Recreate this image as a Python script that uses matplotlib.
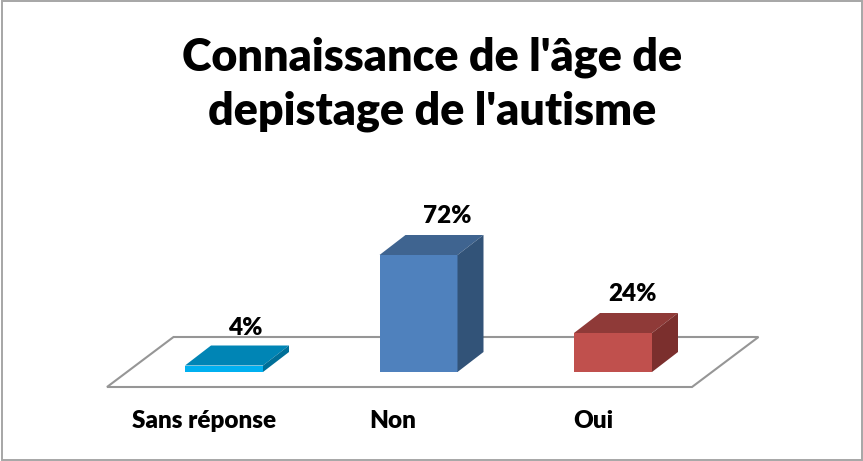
import matplotlib
matplotlib.use('Agg')
import matplotlib.pyplot as plt
from matplotlib.patches import Polygon, Rectangle

plt.rcParams['font.family'] = ['Lato', 'DejaVu Sans']

title = "Connaissance de l'âge de\ndepistage de l'autisme"
categories = ['Sans réponse', 'Non', 'Oui']
values = [4, 72, 24]
labels = ['4%', '72%', '24%']
front_cols = ['#00b0f0', '#4f81bd', '#c0504d']
top_cols = ['#0085b5', '#3f6490', '#8f3a38']
side_cols = ['#006f98', '#325378', '#7b2f2d']

# scale of the chart in pixels
W, H = 863, 461
px_x = 194.5
px_y = 1.625
x0 = 224
y0 = 372

fig = plt.figure(figsize=(W / 100, H / 100), dpi=100)
ax = fig.add_axes([0, 0, 1, 1])
ax.set_xlim(-x0 / px_x, (W - x0) / px_x)
ax.set_ylim(-(H - y0) / px_y, y0 / px_y)
ax.axis('off')

# frame round the chart
fig.add_artist(Rectangle((2 / W, 1.5 / H), (W - 3.5) / W, (H - 3) / H, transform=fig.transFigure,
                         fill=False, ec='#a6a6a6', lw=1.4))

# floor
dx_floor = 66.5 / px_x
fl_l = (107 - x0) / px_x
fl_r = (692 - x0) / px_x
fl_y0 = -15 / px_y
fl_y1 = 35 / px_y
ax.add_patch(Polygon([(fl_l, fl_y0), (fl_r, fl_y0), (fl_r + dx_floor, fl_y1), (fl_l + dx_floor, fl_y1)],
                     closed=True, fc='white', ec='#969696', lw=1.5, zorder=1))

# bars with depth
width = 78 / px_x
dx = 26 / px_x
dy = 20 / px_y
xs = list(range(len(values)))
ax.bar(xs, values, width=width, color=front_cols, zorder=3)
for x, v, ct, cs in zip(xs, values, top_cols, side_cols):
    l = x - width / 2
    r = x + width / 2
    ax.add_patch(Polygon([(l, v), (r, v), (r + dx, v + dy), (l + dx, v + dy)], fc=ct, ec='none', zorder=3))
    ax.add_patch(Polygon([(r, 0), (r + dx, dy), (r + dx, v + dy), (r, v)], fc=cs, ec='none', zorder=3))

# value labels
lab_x = [0.108, 1.147, 2.098]
lab_y = [20.5, 89.2, 41]
for x, y, t in zip(lab_x, lab_y, labels):
    ax.text(x, y, t, ha='center', va='bottom', fontsize=17.5, fontweight='heavy', color='black', zorder=4)

# category labels
cat_x = [-0.103, 0.866, 1.897]
for x, t in zip(cat_x, categories):
    ax.text(x, -49 / px_y * 1, t, ha='center', va='center', fontsize=17.5, fontweight='heavy', color='black')

fig.text(432 / W, 1 - 84 / H, title, ha='center', va='center', fontsize=32.2, fontweight='heavy',
         color='black', linespacing=1.36)

fig.savefig('out.png', dpi=100, facecolor='white')
